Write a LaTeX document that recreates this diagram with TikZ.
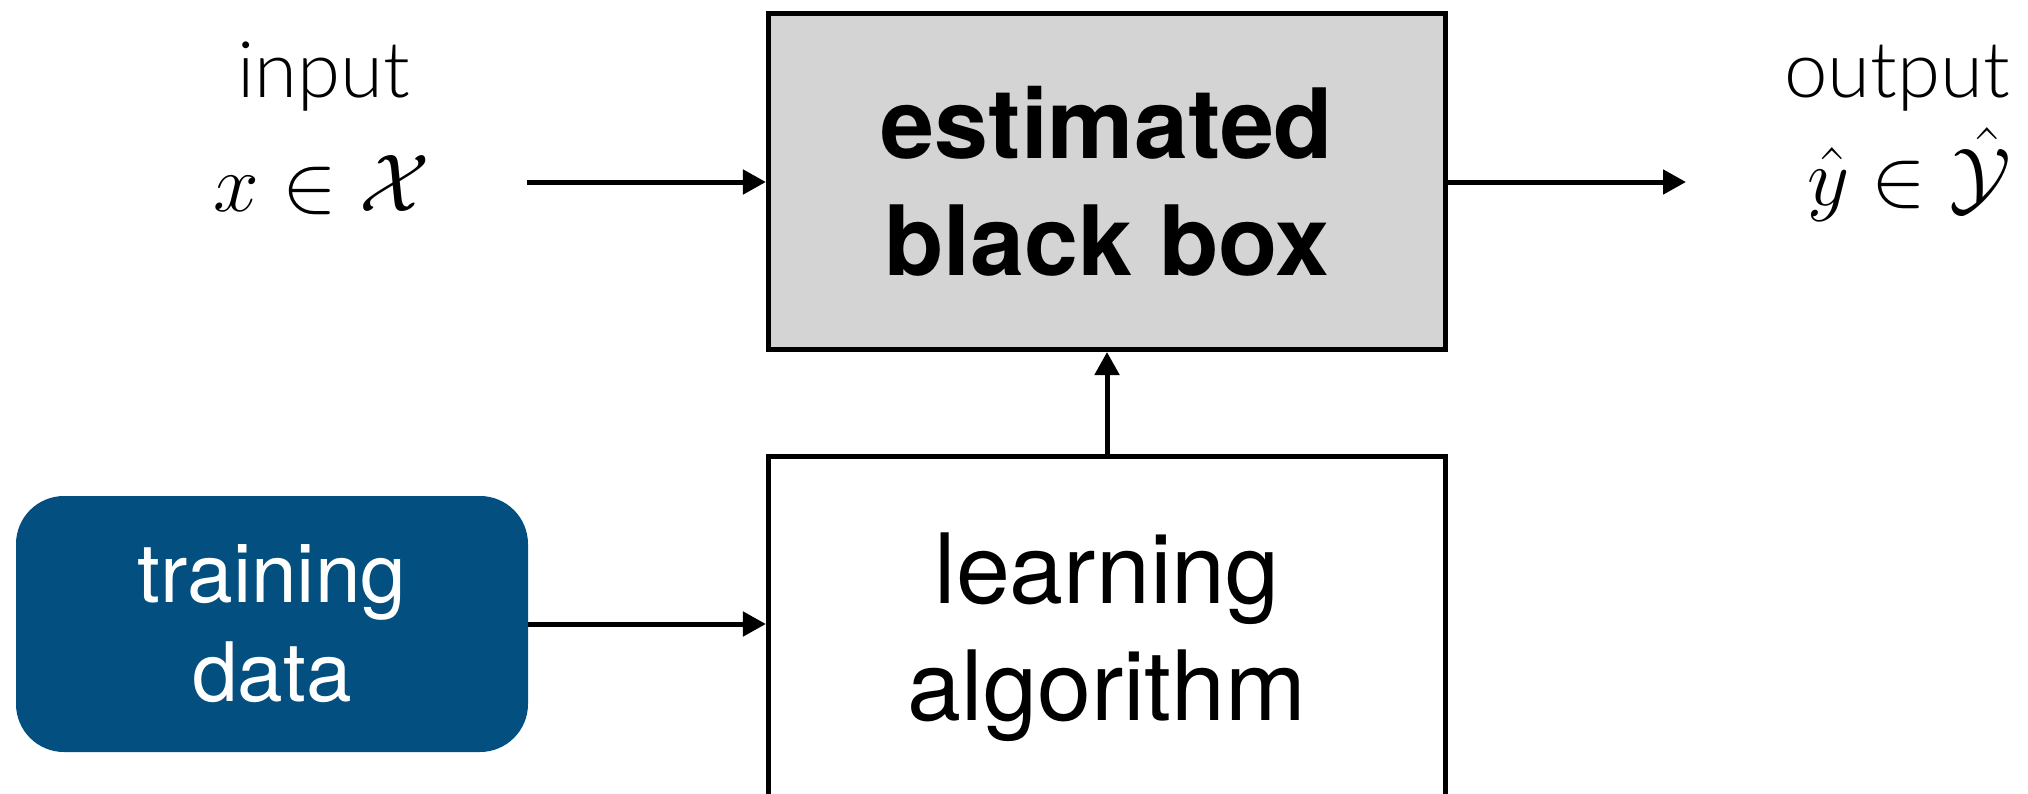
\RequirePackage{fix-cm}
\documentclass[tikz,border=0pt]{standalone}
\usepackage{fontspec}
\setmainfont{TeX Gyre Heros}
\newfontfamily\thinfont{Lato Light}
\usetikzlibrary{arrows.meta}
\definecolor{boxgray}{RGB}{212,212,212}
\definecolor{datablue}{RGB}{3,80,128}
\begin{document}
\begin{tikzpicture}[x=0.5pt,y=-0.5pt,
  flow/.style={line width=2.5pt,-{Triangle[length=11.5pt,width=12pt]}},
  block/.style={draw,line width=2.7pt,minimum width=338.4pt,align=center,inner sep=0pt},
  bigtext/.style={font=\fontsize{48.5pt}{58.5pt}\selectfont},
  thinlabel/.style={font=\thinfont\fontsize{39pt}{39pt}\selectfont,anchor=base,inner sep=0pt},
  mathlabel/.style={font=\fontsize{41pt}{41pt}\selectfont,anchor=base,inner sep=0pt}]
\useasboundingbox (0,0) rectangle (2028,793);

% estimated model
\node[block,bigtext,fill=boxgray,minimum height=167.8pt,font=\fontsize{48.5pt}{58.5pt}\selectfont\bfseries]
  (bb) at (1107,181.5) {estimated\\black box};

% learner
\node[block,bigtext,fill=white,minimum height=180.4pt] (la) at (1107,637) {learning\\algorithm};

% data source
\node[fill=datablue,rounded corners=24pt,minimum width=256pt,minimum height=128pt,
  align=center,inner sep=0pt,text=white,font=\fontsize{41pt}{49.5pt}\selectfont]
  (td) at (272,624) {training\\data};

% input and output labels
\node[thinlabel] (inlabel) at (324,97) {input};
\node[mathlabel] (inmath) at (322,211) {$x\in\mathcal{X}$};
\node[thinlabel] (outlabel) at (1897,97) {output};
\node[mathlabel] (outmath) at (1909,205) {$\hat{y}\in\hat{\mathcal{Y}}$};

% connectors
\coordinate (instart) at (527,182);
\coordinate (outend) at (1686,182);
\draw[flow] (instart) -- (instart -| bb.west);
\draw[flow] (bb.east |- outend) -- (outend);
\draw[flow] (la.north) -- (bb.south);
\draw[flow] (td.east) -- (td.east -| la.west);
\end{tikzpicture}
\end{document}
